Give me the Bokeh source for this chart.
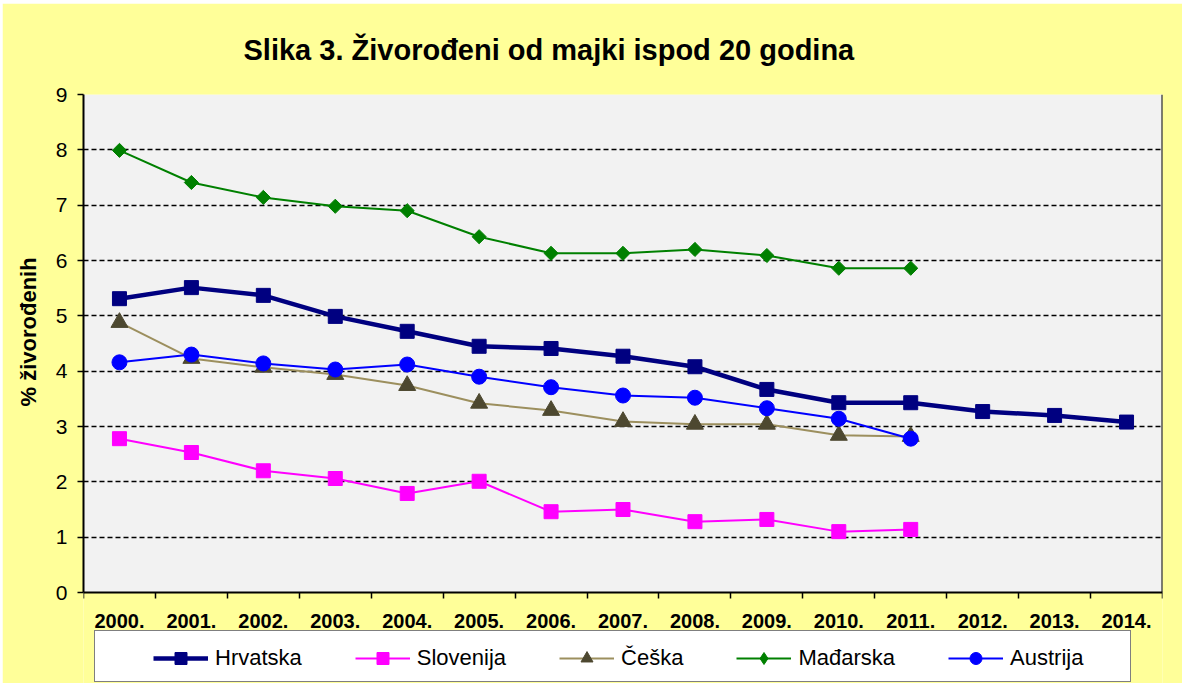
import math
from bokeh.plotting import figure
from bokeh.models import Range1d, FixedTicker, Legend, LegendItem, BoxAnnotation, Title
from bokeh.embed import file_html
from bokeh.resources import INLINE

years = ["2000.", "2001.", "2002.", "2003.", "2004.", "2005.", "2006.", "2007.",
         "2008.", "2009.", "2010.", "2011.", "2012.", "2013.", "2014."]
y_ticks = [0, 1, 2, 3, 4, 5, 6, 7, 8, 9]

hrvatska = [5.31, 5.51, 5.37, 4.99, 4.72, 4.45, 4.41, 4.27, 4.08, 3.67, 3.43, 3.43, 3.27, 3.20, 3.08]
slovenija = [2.78, 2.53, 2.20, 2.06, 1.79, 2.01, 1.46, 1.50, 1.28, 1.32, 1.10, 1.14]
ceska = [4.88, 4.23, 4.07, 3.94, 3.74, 3.42, 3.29, 3.09, 3.04, 3.04, 2.84, 2.82]
madarska = [7.99, 7.41, 7.14, 6.98, 6.90, 6.43, 6.13, 6.13, 6.20, 6.09, 5.86, 5.86]
austrija = [4.16, 4.30, 4.14, 4.03, 4.12, 3.90, 3.71, 3.56, 3.52, 3.33, 3.14, 2.78]

FONT = "Liberation Sans"

# layout (canvas pixels)
W, H = 1180, 680
FR_LEFT, FR_RIGHT, FR_TOP = 79, 1160, 91
ZERO_Y = 589          # pixel row of value 0
Y_MAX = 9
px_per_unit = (ZERO_Y - FR_TOP) / Y_MAX
y_min = -(H - ZERO_Y) / px_per_unit

x_idx = list(range(len(years)))
x_lo, x_hi = -0.5, len(years) - 0.5

p = figure(width=W, height=H, output_backend="svg", toolbar_location=None,
           x_range=Range1d(x_lo, x_hi), y_range=Range1d(y_min, Y_MAX),
           min_border_left=FR_LEFT, min_border_right=W - FR_RIGHT,
           min_border_top=FR_TOP, min_border_bottom=0)
p.margin = (3, 0, 0, 2)
p.background_fill_color = "#FFFF99"
p.border_fill_color = "#FFFF99"
p.outline_line_color = None

# grey plot area between 0 and 9
p.add_layout(BoxAnnotation(bottom=0, top=Y_MAX, fill_color="#F2F2F2", fill_alpha=1,
                           line_color=None, level="image"))

# title
p.title.text = "Slika 3. Živorođeni od majki ispod 20 godina"
p.title.align = "left"
p.title.vertical_align = "top"
p.title.offset = 160
p.title.text_font = FONT
p.title.text_font_size = "29px"
p.title.text_font_style = "bold"
p.title.text_color = "black"
p.title.standoff = 54

# grid
p.xgrid.visible = False
p.ygrid.ticker = FixedTicker(ticks=y_ticks[1:])
p.ygrid.grid_line_color = "black"
p.ygrid.grid_line_dash = "5 3"
p.ygrid.grid_line_width = 1.5
p.ygrid.level = "underlay"

# y axis
ya = p.yaxis[0]
ya.ticker = FixedTicker(ticks=y_ticks)
ya.bounds = (0, Y_MAX)
ya.axis_line_color = "black"
ya.axis_line_width = 2
ya.major_tick_line_color = "black"
ya.major_tick_line_width = 1.5
ya.major_tick_out = 6
ya.major_tick_in = 0
ya.minor_tick_line_color = None
ya.major_label_text_font = FONT
ya.major_label_text_font_size = "21px"
ya.major_label_text_color = "black"
ya.major_label_standoff = 10

# y axis title, placed along the 0..9 part of the axis
ylab = Title(text="% živorođenih", align="left", offset=277, standoff=23,
             text_font=FONT, text_font_size="22px", text_font_style="bold", text_color="black")
p.add_layout(ylab, "left")

# x axis drawn at value 0
xa = p.xaxis[0]
xa.fixed_location = 0
xa.ticker = FixedTicker(ticks=x_idx, minor_ticks=[i - 0.5 for i in range(len(years) + 1)])
xa.major_label_overrides = {i: years[i] for i in x_idx}
xa.axis_line_color = "black"
xa.axis_line_width = 2
xa.major_tick_line_color = None
xa.major_tick_out = 6
xa.major_tick_in = 0
xa.minor_tick_line_color = "black"
xa.minor_tick_line_width = 1.5
xa.minor_tick_out = 6
xa.minor_tick_in = 0
xa.major_label_text_font = FONT
xa.major_label_text_font_size = "20px"
xa.major_label_text_font_style = "bold"
xa.major_label_text_color = "black"
xa.major_label_standoff = 15

# right edge of the plot area
p.segment(x0=[x_hi], y0=[0], x1=[x_hi], y1=[Y_MAX], line_color="black", line_width=2)

series = [
    ("Hrvatska", hrvatska, "#000080", 4.5, "square", "#000080", 14, 0, "square"),
    ("Slovenija", slovenija, "#FF00FF", 2, "square", "#FF00FF", 14, 0, "square"),
    ("Češka", ceska, "#9C8F5E", 2, "triangle", "#4D4830", 17, 0, "triangle"),
    ("Mađarska", madarska, "#008000", 2, "square", "#008000", 10, math.pi / 4, "diamond"),
    ("Austrija", austrija, "#0000FF", 2, "circle", "#0000FF", 15, 0, "circle"),
]

items = []
for name, vals, lc, lw, marker, mc, sz, ang, leg_marker in series:
    xs = x_idx[:len(vals)]
    r1 = p.line(xs, vals, line_color=lc, line_width=lw)
    r2 = p.scatter(xs, vals, marker=marker, size=sz, angle=ang, fill_color=mc, line_color=mc)
    if leg_marker != marker:
        # legend-only marker (not drawn in the plot: its point is NaN)
        r2 = p.scatter(x=[float("nan")], y=[float("nan")], marker=leg_marker,
                       fill_color=mc, line_color=mc)
    items.append(LegendItem(label=name, renderers=[r1, r2]))

# legend background box
dummy = p.line(x=[], y=[], line_alpha=0)
bg = Legend(items=[LegendItem(label=" ", renderers=[dummy])], location=(11, 1),
            orientation="horizontal", padding=0, margin=0, glyph_width=1035, glyph_height=50,
            label_standoff=0, label_text_font_size="1px", label_width=0, label_height=0,
            border_line_color="black", border_line_width=1.5,
            background_fill_color="white", background_fill_alpha=1)
p.add_layout(bg)

leg = Legend(items=items, location=(70, 10), orientation="horizontal", padding=0, margin=0,
             spacing=53, glyph_width=55, glyph_height=30, label_standoff=7,
             label_text_font=FONT, label_text_font_size="22px", label_text_color="black",
             background_fill_alpha=0, border_line_alpha=0)
p.add_layout(leg)

# outer chart border (top and left edges) with white outside
for l, r, t, b, c in [(0, 3000, 0, 8, "white"), (0, 6.5, 0, 3000, "white"),
                      (6.5, 3000, 8, 10.5, "black"), (6.5, 9, 8, 3000, "black")]:
    p.add_layout(BoxAnnotation(left=l, right=r, top=t, bottom=b,
                               left_units="canvas", right_units="canvas",
                               top_units="canvas", bottom_units="canvas",
                               fill_color=c, fill_alpha=1, line_color=None))

open("out.html", "w").write(file_html(p, INLINE))
